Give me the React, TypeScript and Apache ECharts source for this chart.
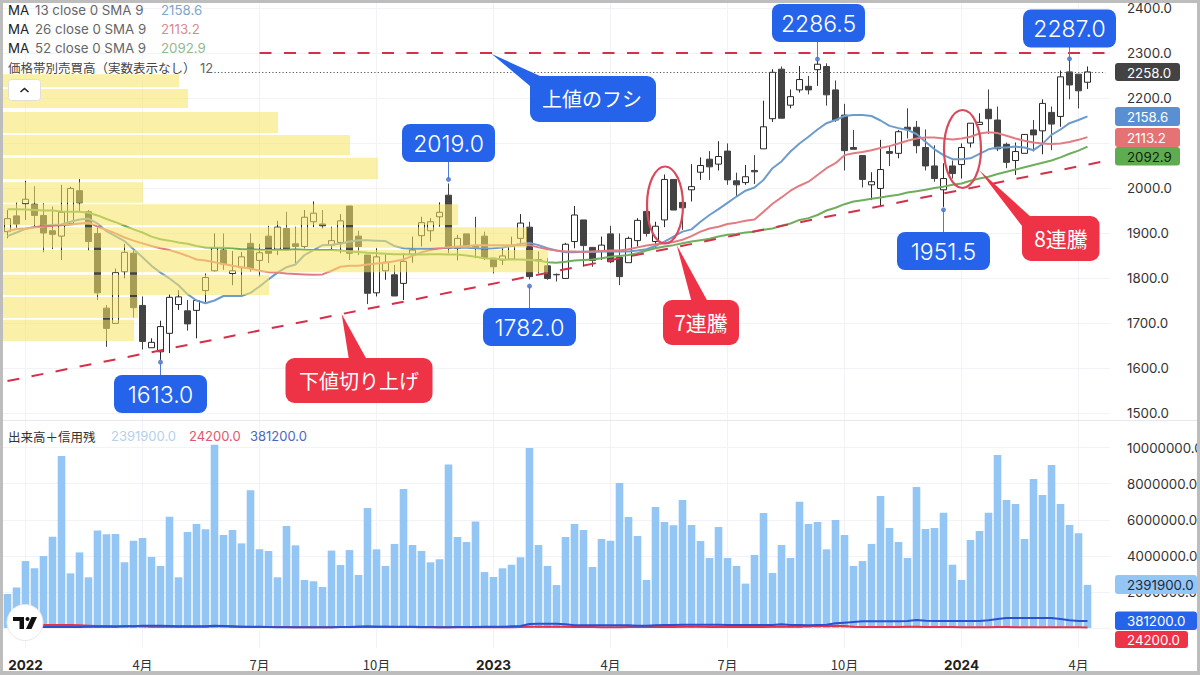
import { useEffect, useRef } from "react";
import * as echarts from "echarts";

const FONT = "Inter, 'Noto Sans CJK JP', sans-serif";
const JP = "'Noto Sans CJK JP', sans-serif";
const BLUE = "#2563eb";
const RED = "#ef3347";
const MA_BLUE = "#6d9ccb";
const MA_RED = "#e27c82";
const MA_GREEN = "#6fae5c";
const DASH_RED = "#d5304a";

// 週足 121本 + 右側の余白2本
const SLOTS = 123;
const tickIndex = [2, 15, 28, 41, 54, 67, 80, 93, 106, 119];
const tickLabels = ["2022", "4月", "7月", "10月", "2023", "4月", "7月", "10月", "2024", "4月"];

const opens = [1903,1938,1965,1964,1939,1905,1893,1921,1994,1947,1899,1733,1699,1814,1855,1739,1645,1636,1677,1741,1727,1728,1772,1816,1862,1810,1823,1877,1839,1893,1864,1910,1876,1870,1925,1920,1873,1879,1960,1893,1851,1767,1816,1807,1788,1853,1894,1905,1936,1984,1866,1898,1871,1893,1844,1840,1842,1888,1913,1841,1827,1808,1799,1881,1929,1868,1859,1898,1846,1834,1883,1948,1881,1929,2019,1968,1996,2035,2064,2053,2082,2016,2012,2039,2087,2154,2264,2184,2218,2226,2263,2270,2218,2162,2090,2072,2007,1999,2081,2077,2135,2135,2090,2049,1996,2049,2052,2100,2141,2175,2151,2097,2061,2077,2129,2127,2168,2159,2258,2253,2235];
const closes = [1932,1920,1975,1939,1900,1897,1946,1999,1967,1881,1767,1688,1812,1857,1734,1659,1657,1692,1757,1758,1698,1750,1801,1867,1831,1816,1847,1821,1856,1855,1913,1862,1870,1935,1944,1916,1883,1927,1855,1870,1766,1847,1835,1760,1837,1862,1923,1925,1946,1866,1888,1870,1866,1844,1825,1849,1871,1922,1803,1838,1799,1807,1875,1940,1872,1839,1873,1836,1803,1888,1928,1899,1915,2019,1951,1956,2003,2050,2047,2070,2018,2007,2025,2036,2136,2257,2155,2203,2241,2218,2275,2207,2151,2083,2086,2019,2014,2041,2077,2125,2130,2094,2049,2021,2021,2032,2090,2144,2146,2154,2087,2057,2081,2119,2118,2188,2142,2247,2229,2216,2258];
const lows = [1888,1909,1929,1914,1857,1864,1840,1918,1947,1861,1751,1647,1699,1799,1712,1641,1645,1618,1633,1729,1683,1666,1744,1814,1818,1784,1759,1814,1803,1833,1851,1862,1829,1866,1913,1910,1862,1855,1840,1851,1742,1759,1796,1760,1751,1834,1870,1881,1914,1855,1839,1870,1844,1840,1810,1829,1842,1871,1797,1810,1796,1792,1799,1866,1825,1825,1840,1833,1784,1834,1870,1892,1866,1913,1951,1907,1970,2018,2018,2039,2007,1982,2007,2009,2087,2147,2155,2177,2212,2208,2227,2183,2147,2039,2086,2001,1973,1960,2049,2066,2110,2077,2039,2014,1958,2021,2021,2090,2141,2120,2082,2044,2029,2077,2081,2075,2084,2136,2197,2177,2220];
const highs = [1951,1968,2016,2004,1966,1959,2007,2003,2020,1951,1914,1740,1821,1876,1862,1759,1666,1705,1764,1773,1751,1751,1810,1899,1899,1860,1858,1899,1876,1916,1927,1947,1914,1951,1970,1951,1914,1942,1960,1905,1851,1866,1855,1829,1855,1892,1936,1933,1968,2010,1896,1898,1936,1903,1844,1866,1892,1942,1925,1859,1844,1810,1878,1960,1929,1868,1892,1916,1899,1892,1933,1966,1925,2030,2019,1968,2053,2068,2082,2104,2099,2034,2051,2073,2194,2264,2270,2219,2271,2249,2284,2277,2239,2187,2129,2073,2035,2107,2092,2129,2177,2149,2130,2095,2055,2061,2099,2144,2166,2219,2181,2101,2101,2119,2151,2197,2181,2261,2284,2253,2270];

const ma13 = [1893,1901,1909,1913,1916,1918,1919,1925,1930,1932,1921,1904,1893,1882,1864,1846,1827,1812,1799,1784,1764,1750,1744,1750,1760,1760,1760,1767,1781,1797,1812,1824,1830,1851,1862,1873,1874,1876,1881,1884,1884,1883,1882,1871,1866,1865,1865,1865,1866,1867,1867,1867,1866,1865,1866,1868,1871,1876,1878,1873,1866,1861,1857,1857,1859,1858,1859,1859,1859,1859,1861,1864,1871,1881,1892,1903,1908,1925,1940,1953,1967,1981,1994,2001,2018,2044,2059,2081,2099,2114,2130,2144,2151,2160,2162,2162,2160,2150,2138,2133,2129,2120,2103,2086,2073,2064,2064,2066,2076,2086,2090,2090,2092,2090,2084,2098,2118,2130,2144,2151,2159];
const ma26 = [1904,1909,1910,1913,1914,1916,1917,1919,1921,1923,1914,1907,1899,1890,1883,1877,1871,1866,1862,1856,1849,1841,1839,1835,1831,1827,1824,1821,1816,1813,1812,1810,1809,1808,1807,1808,1816,1825,1827,1827,1830,1832,1834,1837,1841,1849,1857,1862,1866,1868,1870,1871,1873,1873,1873,1873,1873,1873,1873,1868,1864,1861,1859,1859,1858,1859,1860,1861,1861,1864,1868,1872,1875,1877,1880,1885,1893,1903,1910,1914,1920,1923,1927,1930,1947,1965,1979,1994,2005,2014,2029,2044,2055,2073,2077,2080,2084,2089,2093,2099,2105,2110,2112,2112,2110,2108,2110,2114,2121,2124,2122,2116,2110,2105,2101,2099,2098,2099,2102,2107,2113];
const ma52 = [1953,1953,1952,1951,1950,1950,1948,1947,1947,1945,1939,1931,1924,1916,1908,1901,1892,1886,1883,1879,1876,1871,1868,1867,1867,1866,1864,1864,1863,1862,1862,1863,1864,1863,1862,1862,1862,1861,1859,1858,1856,1855,1854,1853,1853,1852,1852,1853,1853,1852,1852,1850,1847,1844,1843,1841,1841,1841,1840,1839,1835,1834,1836,1839,1840,1841,1844,1847,1849,1851,1855,1861,1866,1870,1873,1877,1881,1884,1887,1892,1896,1898,1901,1903,1907,1910,1916,1921,1929,1933,1940,1950,1956,1964,1970,1973,1976,1979,1982,1985,1990,1993,1996,2000,2003,2007,2010,2016,2021,2025,2031,2036,2041,2046,2051,2056,2061,2068,2076,2083,2092];

// 価格帯別売買高（上の帯から順に）
const profileHigh = [2253,2220,2169,2118,2067,2013,1964,1913,1862,1807,1758,1707];
const profileLow = [2224,2178,2122,2073,2020,1967,1918,1867,1813,1762,1711,1660];
const profileVolume = [176,185,275,347,375,140,455,524,545,266,135,131];

// 出来高（百万株）
const volume = [1.89,2.25,3.71,3.31,3.99,5.06,9.54,3.03,4.19,2.81,5.40,5.19,5.21,3.64,4.84,4.99,3.94,3.44,6.17,2.81,5.32,5.77,5.47,10.16,5.16,5.43,4.69,7.63,4.36,4.27,2.81,5.65,4.58,2.66,2.59,2.27,4.29,3.49,4.32,2.94,6.65,4.36,3.44,4.66,7.71,4.60,4.27,3.64,3.81,9.07,5.05,4.77,5.90,3.10,2.83,3.31,3.51,3.92,9.98,4.60,3.44,2.38,5.05,5.77,5.43,3.38,4.93,4.84,8.04,6.15,5.10,2.66,6.71,5.88,5.69,7.10,5.71,4.82,3.88,5.60,3.88,3.44,2.46,4.05,6.38,3.05,4.60,3.88,7.00,5.77,5.88,4.36,5.99,5.16,3.44,3.71,4.66,7.32,5.54,4.77,3.88,7.82,5.49,5.54,6.39,3.51,2.66,4.88,5.38,6.39,9.59,7.10,6.87,4.93,8.26,7.37,9.04,6.87,5.71,5.25,2.39];
// 信用残（千株）
const creditBuy = [111,111,92,74,55,55,55,55,55,74,74,74,74,92,92,129,129,129,111,92,92,92,92,129,111,92,74,74,74,55,37,37,37,37,37,37,37,55,55,74,74,74,74,74,74,74,55,55,37,37,55,55,55,74,74,74,92,111,222,240,240,240,203,148,148,148,148,148,148,148,129,129,148,166,166,185,185,185,185,185,166,166,166,166,166,166,203,166,166,148,166,185,259,296,333,370,370,370,370,370,388,444,407,388,388,388,388,388,388,425,499,554,554,554,554,554,554,499,425,388,381];
const creditSell = [129,129,148,148,166,166,166,166,148,129,111,111,92,92,92,92,74,74,74,74,74,74,74,92,92,74,74,55,55,55,55,55,37,37,37,37,37,55,55,74,92,74,74,55,55,55,37,37,37,37,37,37,37,37,37,37,37,55,74,74,74,74,74,55,55,55,37,37,37,55,55,55,55,55,55,74,74,74,55,55,55,55,55,55,55,74,74,74,74,92,111,111,129,111,74,55,55,55,55,55,74,74,55,55,55,55,37,37,37,37,55,55,37,37,37,37,37,37,37,37,24];

// 高値・安値の吹き出し [足の番号, 価格]
const pivotIndex = [17, 49, 58, 90, 104, 118];
const pivotPrice = [1613, 2019, 1782, 2286.5, 1951.5, 2287];

const priceTicks = [1500, 1600, 1700, 1800, 1900, 2000, 2100, 2200, 2300, 2400];
// 2100.0 は右軸タグの裏に隠れるのでラベルを出さない
const priceLabels = [1500, 1600, 1700, 1800, 1900, 2000, 2200, 2300, 2400];
const volumeTicks = [0, 2000000, 4000000, 6000000, 8000000, 10000000];
const volumeLabels = [2000000, 4000000, 6000000, 8000000, 10000000];

const categories = Array.from({ length: SLOTS }, (_, i) => {
  const k = tickIndex.indexOf(i);
  return k >= 0 ? tickLabels[k] : `w${i}`;
});

const label = (x: number, y: number, text: string, fill: string, font: string, align = "left") => ({
  type: "text",
  x,
  y,
  z: 100,
  silent: true,
  style: { text, fill, font, align, verticalAlign: "middle" },
});

const box = (x: number, y: number, width: number, height: number, fill: string, r = 8) => ({
  type: "rect",
  z: 99,
  silent: true,
  shape: { x, y, width, height, r },
  style: { fill },
});

const arrow = (points: number[][], fill: string) => ({
  type: "polygon",
  z: 99,
  silent: true,
  shape: { points },
  style: { fill },
});

const leader = (x: number, y1: number, y2: number) => ({
  type: "line",
  z: 98,
  silent: true,
  shape: { x1: x, y1, x2: x, y2 },
  style: { stroke: "#4f7bd6", lineWidth: 1 },
});

const priceCallout = (x: number, y: number, text: string, lineTo: number, lineFrom: number, cx: number) => [
  leader(cx, lineFrom, lineTo),
  box(x, y, 93, 38, BLUE),
  label(x + 46.5, y + 19.5, text, "#fff", `300 23px ${FONT}`, "center"),
];

const tag = (x: number, y: number, w: number, h: number, text: string, bg: string, fg: string) => [
  box(x, y, w, h, bg, 3),
  label(x + 12, y + h / 2 + 0.5, text, fg, `400 13.3px ${FONT}`),
];

const legendRow = (y: number, period: string, value: string, color: string) => [
  label(8, y, "MA", "#222", `400 13.3px ${FONT}`),
  label(35, y, `${period} close 0 SMA 9`, "#666", `400 13.3px ${FONT}`),
  label(161, y, value, color, `400 13.3px ${FONT}`),
];

const graphics = [
  // 凡例
  ...legendRow(10, "13", "2158.6", "#7ea6c9"),
  ...legendRow(29, "26", "2113.2", "#d98a92"),
  ...legendRow(48, "52", "2092.9", "#93b98f"),
  label(8, 67.5, "価格帯別売買高（実数表示なし）", "#444", `400 12.5px ${JP}`),
  label(200, 67.5, "12", "#666", `400 13px ${FONT}`),
  {
    type: "rect",
    z: 99,
    silent: true,
    shape: { x: 8.5, y: 79.5, width: 32, height: 21, r: 3 },
    style: { fill: "#fff", stroke: "#e0e0d8", lineWidth: 1 },
  },
  {
    type: "polyline",
    z: 100,
    silent: true,
    shape: { points: [[20.5, 92], [24.5, 88.5], [28.5, 92]] },
    style: { stroke: "#222", lineWidth: 1.6, fill: "none" },
  },
  label(8, 436, "出来高＋信用残", "#333", `400 12.5px ${JP}`),
  label(111, 436, "2391900.0", "#b4d2ea", `400 13px ${FONT}`),
  label(189, 436, "24200.0", "#e2566e", `400 13px ${FONT}`),
  label(250, 436, "381200.0", "#4a68c0", `400 13px ${FONT}`),

  // ペイン境界
  {
    type: "line",
    z: 50,
    silent: true,
    shape: { x1: 3, y1: 420.5, x2: 1197, y2: 420.5 },
    style: { stroke: "#e6e8ee", lineWidth: 1 },
  },

  // 高安の吹き出し
  ...priceCallout(114, 375, "1613.0", 363, 375, 160.5),
  ...priceCallout(402, 124, "2019.0", 179, 162, 448.5),
  ...priceCallout(483, 308, "1782.0", 286, 308, 529.5),
  ...priceCallout(772, 4, "2286.5", 59, 42, 817.5),
  ...priceCallout(897, 232, "1951.5", 210, 232, 943.5),
  ...priceCallout(1023, 9.5, "2287.0", 59, 47, 1069.5),

  // コメント
  arrow([[491.7, 54], [530, 86], [540, 76]], BLUE),
  box(530, 76, 126, 46, BLUE, 9),
  label(592, 98.5, "上値のフシ", "#fff", `400 20px ${JP}`, "center"),

  arrow([[341.7, 314], [349, 360], [367, 360]], RED),
  box(285.5, 358, 147, 45, RED, 9),
  label(359, 380, "下値切り上げ", "#fff", `400 20px ${JP}`, "center"),

  arrow([[676.7, 245], [691.7, 302], [708, 302]], RED),
  box(663, 300, 76, 45, RED, 9),
  label(701, 322, "7連騰", "#fff", `400 21px ${JP}`, "center"),

  arrow([[979, 170], [1022, 226], [1032, 218]], RED),
  box(1022, 216, 77.5, 45, RED, 9),
  label(1061, 238, "8連騰", "#fff", `400 21px ${JP}`, "center"),

  {
    type: "ellipse",
    z: 97,
    silent: true,
    shape: { cx: 665, cy: 205, rx: 18, ry: 38.5 },
    style: { fill: "transparent", stroke: "#d94a5c", lineWidth: 2.2 },
  },
  {
    type: "ellipse",
    z: 97,
    silent: true,
    shape: { cx: 962.5, cy: 149, rx: 18.5, ry: 39 },
    style: { fill: "transparent", stroke: "#d94a5c", lineWidth: 2.2 },
  },

  // 右軸のタグ
  ...tag(1115, 63, 65, 18, "2258.0", "#434343", "#fff"),
  ...tag(1115, 107, 65, 19, "2158.6", "#5b8fd4", "#fff"),
  ...tag(1115, 128, 65, 19, "2113.2", "#e57373", "#fff"),
  ...tag(1115, 147, 65, 18.5, "2092.9", "#5fac50", "#10240c"),
  ...tag(1115, 575, 82, 19, "2391900.0", "#93c5f5", "#1c2c3c"),
  ...tag(1115, 611.5, 82, 18.5, "381200.0", BLUE, "#fff"),
  ...tag(1115, 631, 73, 17, "24200.0", RED, "#fff"),

  // TradingView ロゴ
  { type: "circle", z: 99, silent: true, shape: { cx: 25, cy: 622.5, r: 18 }, style: { fill: "#fff", stroke: "#e8e8e8", lineWidth: 1 } },
  { type: "polygon", z: 100, silent: true, shape: { points: [[13, 617], [24, 617], [24, 629], [19.5, 629], [19.5, 621], [13, 621]] }, style: { fill: "#111" } },
  { type: "circle", z: 100, silent: true, shape: { cx: 27.5, cy: 619, r: 2 }, style: { fill: "#111" } },
  { type: "polygon", z: 100, silent: true, shape: { points: [[31.5, 617], [37, 617], [31.5, 629], [26, 629]] }, style: { fill: "#111" } },

  // 画像の枠
  { type: "rect", z: 200, silent: true, shape: { x: 0, y: 0, width: 1200, height: 3 }, style: { fill: "#bdbdbd" } },
  { type: "rect", z: 200, silent: true, shape: { x: 0, y: 671, width: 1200, height: 4 }, style: { fill: "#bdbdbd" } },
  { type: "rect", z: 200, silent: true, shape: { x: 0, y: 0, width: 3, height: 675 }, style: { fill: "#bdbdbd" } },
  { type: "rect", z: 200, silent: true, shape: { x: 1197, y: 0, width: 3, height: 675 }, style: { fill: "#bdbdbd" } },
];

const showTick = (i: number) => tickIndex.includes(i);
const GRID_LINE = "#f1f3f8";

export default function App() {
  const ref = useRef<HTMLDivElement>(null);

  useEffect(() => {
    const chart = echarts.init(ref.current!, null, { renderer: "svg" });
    const dashed = { width: 2, color: DASH_RED, type: [12, 12.5] };

    chart.setOption({
      animation: false,
      backgroundColor: "#fff",
      // outerBoundsMode: none ── 右軸ラベルがはみ出しても grid を縮めない
      grid: [
        { left: 3, right: 90, top: 3, height: 417, outerBoundsMode: "none" },
        { left: 3, right: 90, top: 421, height: 227, outerBoundsMode: "none" },
      ],
      xAxis: [
        {
          type: "category",
          gridIndex: 0,
          data: categories,
          axisLine: { show: false },
          axisTick: { show: false },
          axisLabel: { show: false },
          splitLine: { show: true, interval: showTick, alignWithLabel: true, lineStyle: { color: GRID_LINE } },
        },
        {
          type: "category",
          gridIndex: 1,
          data: categories,
          axisLine: { show: false },
          axisTick: { show: false },
          axisLabel: {
            interval: showTick,
            margin: 10,
            color: "#333",
            fontFamily: JP,
            fontSize: 13,
            formatter: (v: string) => (/^20/.test(v) ? `{y|${v}}` : v),
            rich: { y: { fontFamily: FONT, fontWeight: 700, fontSize: 13.5, color: "#222" } },
          },
          splitLine: { show: true, interval: showTick, alignWithLabel: true, lineStyle: { color: GRID_LINE } },
        },
        // 価格帯別売買高の横棒用（非表示）
        { type: "value", gridIndex: 0, min: 0, max: 1107, show: false },
      ],
      yAxis: [
        {
          type: "value",
          gridIndex: 0,
          position: "right",
          min: 1484.4,
          max: 2411.1,
          axisLine: { show: false },
          axisTick: { show: false, customValues: priceTicks },
          axisLabel: {
            customValues: priceLabels,
            align: "left",
            margin: 17,
            color: "#333",
            fontFamily: FONT,
            fontSize: 13.3,
            formatter: (v: number) => v.toFixed(1),
          },
          splitLine: { show: true, lineStyle: { color: GRID_LINE } },
        },
        {
          type: "value",
          gridIndex: 1,
          position: "right",
          min: -1109000,
          max: 11475000,
          axisLine: { show: false },
          axisTick: { show: false, customValues: volumeTicks },
          axisLabel: {
            customValues: volumeLabels,
            align: "left",
            margin: 17,
            color: "#333",
            fontFamily: FONT,
            fontSize: 13.3,
            formatter: (v: number) => v.toFixed(1),
          },
          splitLine: { show: true, lineStyle: { color: GRID_LINE } },
        },
      ],
      series: [
        {
          name: "週足",
          type: "candlestick",
          xAxisIndex: 0,
          yAxisIndex: 0,
          z: 2,
          barWidth: 6,
          data: opens.map((o, i) => [o, closes[i], lows[i], highs[i]]),
          itemStyle: { color: "#fff", color0: "#434343", borderColor: "#2b2b2b", borderColor0: "#434343", borderWidth: 1 },
          markLine: {
            silent: true,
            symbol: "none",
            animation: false,
            label: { show: false },
            data: [
              // 上値のフシ
              [{ coord: [28, 2300.5], lineStyle: dashed }, { coord: [122, 2300.5] }],
              // 下値切り上げ
              [{ coord: [-0.5, 1571], lineStyle: dashed }, { coord: [122, 2060] }],
              // 現在値
              [
                { coord: [23, 2258], lineStyle: { width: 1.2, color: "#555", type: [1.2, 2.2] } },
                { coord: [122, 2258] },
              ],
            ],
          },
        },
        ...[
          { name: "MA13", data: ma13, color: MA_BLUE },
          { name: "MA26", data: ma26, color: MA_RED },
          { name: "MA52", data: ma52, color: MA_GREEN },
        ].map((m) => ({
          name: m.name,
          type: "line",
          xAxisIndex: 0,
          yAxisIndex: 0,
          z: 3,
          data: m.data,
          showSymbol: false,
          symbol: "none",
          lineStyle: { width: 2, color: m.color },
        })),
        {
          name: "価格帯別売買高",
          type: "custom",
          xAxisIndex: 2,
          yAxisIndex: 0,
          z: 5,
          silent: true,
          data: profileVolume.map((v, i) => [v, profileLow[i], profileHigh[i]]),
          encode: { x: 0, y: [1, 2] },
          renderItem: (_: unknown, api: any) => {
            const a = api.coord([0, api.value(2)]);
            const b = api.coord([api.value(0), api.value(1)]);
            return {
              type: "rect",
              shape: { x: a[0], y: a[1], width: b[0] - a[0], height: b[1] - a[1] },
              style: { fill: "rgba(248,228,100,0.56)" },
            };
          },
        },
        {
          name: "高安",
          type: "scatter",
          xAxisIndex: 0,
          yAxisIndex: 0,
          z: 6,
          symbolSize: 5,
          itemStyle: { color: "#3f6bc9" },
          data: pivotIndex.map((x, i) => [x, pivotPrice[i]]),
        },
        {
          name: "出来高",
          type: "bar",
          xAxisIndex: 1,
          yAxisIndex: 1,
          barWidth: 7.6,
          z: 2,
          itemStyle: { color: "#93c5f5" },
          data: volume.map((v) => v * 1000000),
        },
        {
          name: "売り残",
          type: "line",
          xAxisIndex: 1,
          yAxisIndex: 1,
          z: 3,
          showSymbol: false,
          symbol: "none",
          lineStyle: { width: 2, color: "#e0354b" },
          data: creditSell.map((v) => v * 1000),
        },
        {
          name: "買い残",
          type: "line",
          xAxisIndex: 1,
          yAxisIndex: 1,
          z: 4,
          showSymbol: false,
          symbol: "none",
          lineStyle: { width: 2, color: "#2a52d0" },
          data: creditBuy.map((v) => v * 1000),
        },
      ],
      graphic: { elements: graphics },
    });

    return () => chart.dispose();
  }, []);

  return <div ref={ref} style={{ position: "fixed", left: 0, top: 0, width: 1200, height: 675, background: "#fff" }} />;
}
